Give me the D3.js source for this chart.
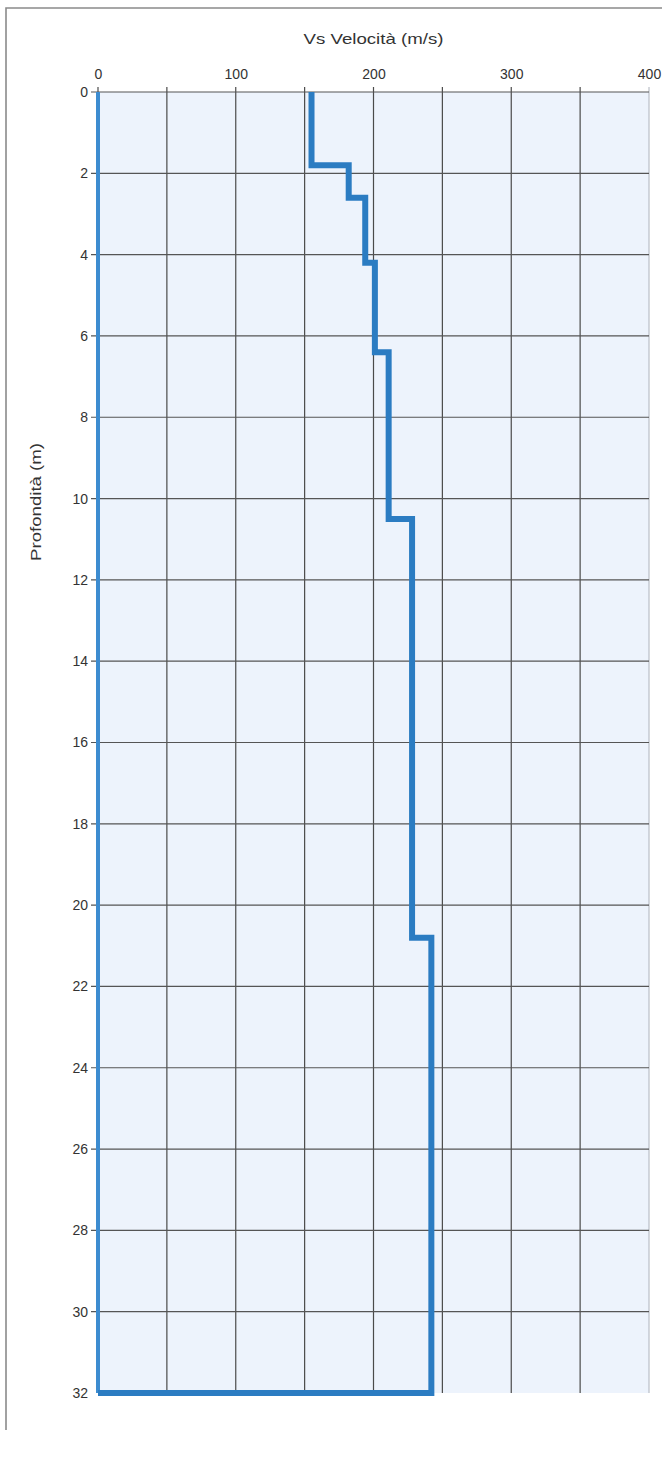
<!DOCTYPE html>
<html>
<head>
<meta charset="utf-8">
<script src="https://cdn.jsdelivr.net/npm/d3@7"></script>
<style>
  html, body { margin: 0; padding: 0; background: #ffffff; }
  svg { display: block; }
  text { font-family: "Liberation Sans", Arial, sans-serif; fill: #333; }
</style>
</head>
<body>
<svg id="chart" width="662" height="1471"></svg>
<script>
// Shear-wave velocity profile: layer tops/bottoms (m) and Vs (m/s)
const layerTop    = [0, 1.8, 2.6, 4.2, 6.4, 10.5, 20.8];
const layerBottom = [1.8, 2.6, 4.2, 6.4, 10.5, 20.8, 32];
const vsValues    = [155, 182, 194, 201, 211, 228, 242];

const velocityTicks = [0, 100, 200, 300, 400];
const velocityGrid  = [0, 50, 100, 150, 200, 250, 300, 350, 400];
const depthTicks    = [0, 2, 4, 6, 8, 10, 12, 14, 16, 18, 20, 22, 24, 26, 28, 30, 32];

const svg = d3.select("#chart");

const plot = { left: 98, right: 649, top: 92, bottom: 1393 };

const x = d3.scaleLinear().domain([0, 400]).range([plot.left, plot.right]);
const y = d3.scaleLinear().domain([0, 32]).range([plot.top, plot.bottom]);

// outer frame (top and left edges)
svg.append("path")
  .attr("d", `M6,1430 L6,8 L662,8`)
  .attr("fill", "none")
  .attr("stroke", "#8a8a8a")
  .attr("stroke-width", 1.6);

// plot background
svg.append("rect")
  .attr("x", plot.left).attr("y", plot.top)
  .attr("width", plot.right - plot.left)
  .attr("height", plot.bottom - plot.top)
  .attr("fill", "#edf3fc");

// vertical grid (every 50 m/s), extended above the plot as ticks
svg.append("g").selectAll("line")
  .data(velocityGrid)
  .join("line")
  .attr("x1", d => x(d)).attr("x2", d => x(d))
  .attr("y1", plot.top - 5).attr("y2", plot.bottom)
  .attr("stroke", d => d === 400 ? "#b9bec6" : "#4a4a4a")
  .attr("stroke-width", 1.2);

// horizontal grid (every 2 m), extended left of the plot as ticks
svg.append("g").selectAll("line")
  .data(depthTicks.filter(d => d < 32))
  .join("line")
  .attr("x1", plot.left - 7).attr("x2", plot.right)
  .attr("y1", d => y(d)).attr("y2", d => y(d))
  .attr("stroke", "#555")
  .attr("stroke-width", 1.2);

// top axis labels
const xAxis = d3.axisTop(x).tickValues(velocityTicks).tickSize(0).tickPadding(13);
const gx = svg.append("g").attr("transform", `translate(0,${plot.top})`).call(xAxis);
gx.select(".domain").remove();
gx.selectAll("text").attr("font-size", 14).attr("font-family", null).style("fill", "#333");

// left axis labels
const yAxis = d3.axisLeft(y).tickValues(depthTicks).tickSize(0).tickPadding(10);
const gy = svg.append("g").attr("transform", `translate(${plot.left},0)`).call(yAxis);
gy.select(".domain").remove();
gy.selectAll("text").attr("font-size", 14).attr("font-family", null).style("fill", "#333");

// axis titles
svg.append("text")
  .attr("x", (x(0) + x(400)) / 2)
  .attr("y", 44)
  .attr("text-anchor", "middle")
  .attr("font-size", 15)
  .attr("textLength", 140)
  .attr("lengthAdjust", "spacingAndGlyphs")
  .text("Vs Velocità (m/s)");

svg.append("text")
  .attr("transform", `translate(41,502) rotate(-90)`)
  .attr("text-anchor", "middle")
  .attr("font-size", 15)
  .attr("textLength", 118)
  .attr("lengthAdjust", "spacingAndGlyphs")
  .text("Profondità (m)");

// profile outline: step curve, then across the base and back up the axis
const pts = [[vsValues[0], layerTop[0]]];
vsValues.forEach((v, i) => {
  pts.push([v, layerBottom[i]]);
  if (i + 1 < vsValues.length) pts.push([vsValues[i + 1], layerBottom[i]]);
});
pts.push([0, 32]);

const line = d3.line().x(d => x(d[0])).y(d => y(d[1]));

svg.append("path")
  .attr("d", line([[0, 0], [0, 32]]))
  .attr("fill", "none")
  .attr("stroke", "#3d8cd0")
  .attr("stroke-width", 4);

svg.append("path")
  .attr("d", line(pts))
  .attr("fill", "none")
  .attr("stroke", "#2b7cc2")
  .attr("stroke-width", 6)
  .attr("stroke-linejoin", "miter");
</script>
</body>
</html>
